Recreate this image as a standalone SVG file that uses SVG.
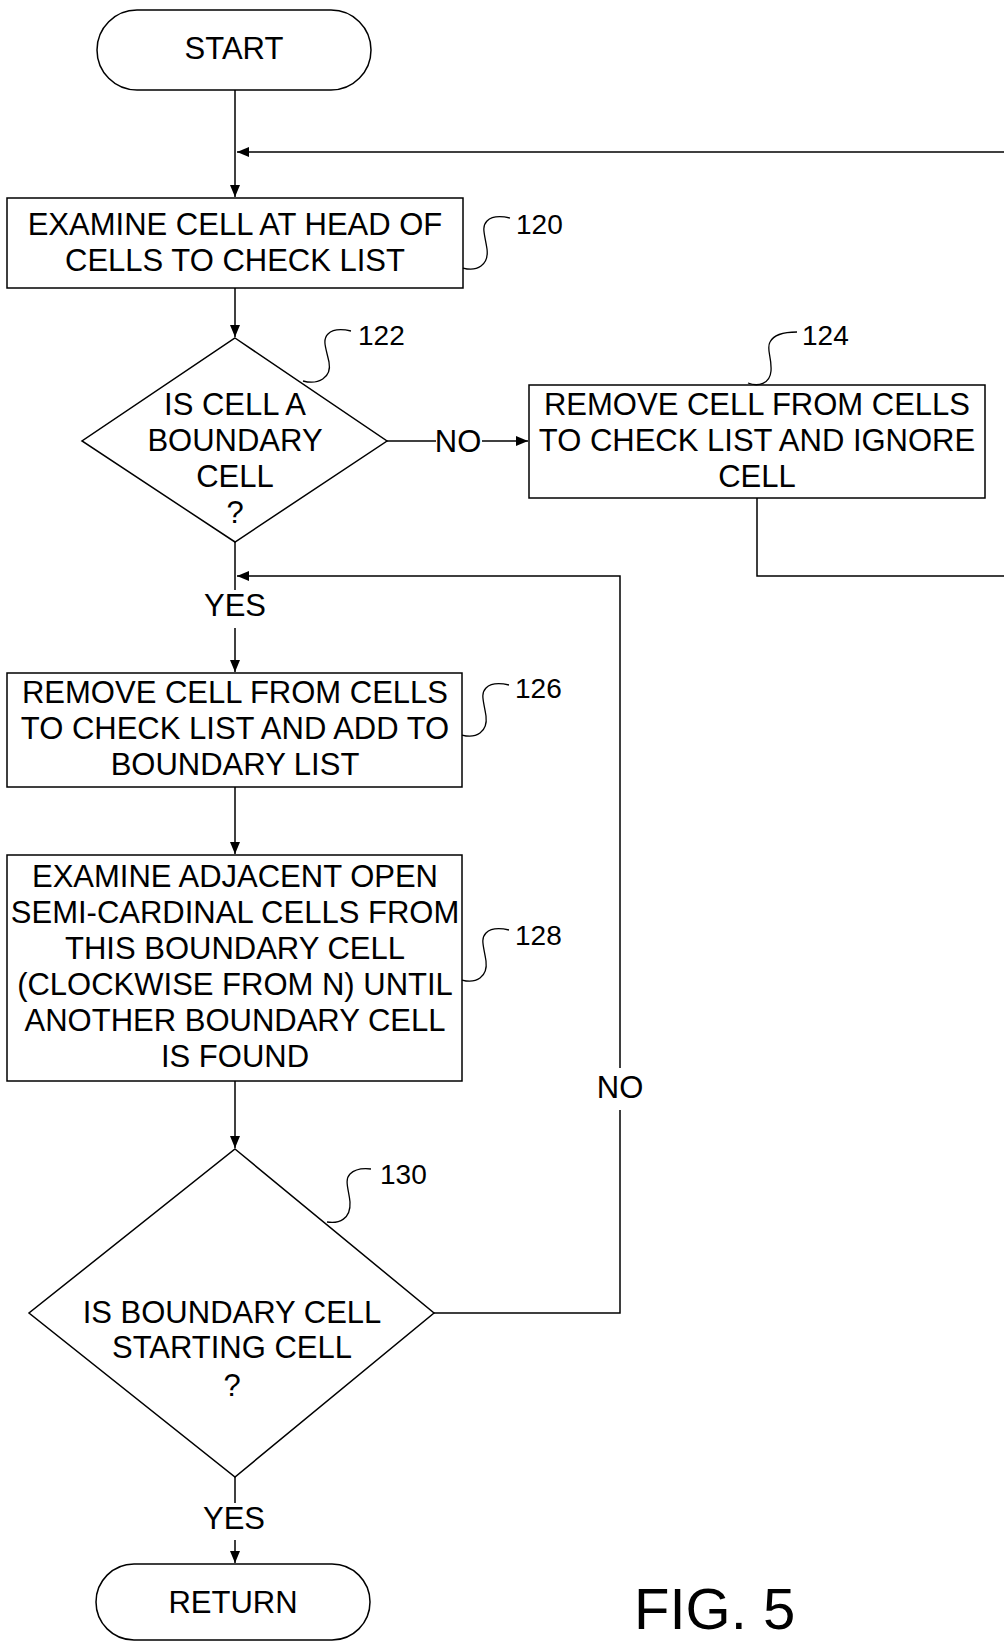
<svg xmlns="http://www.w3.org/2000/svg" width="1004" height="1642" viewBox="0 0 1004 1642">
<style>
.shape{fill:#fff;stroke:#000;stroke-width:1.5}
.line{fill:none;stroke:#000;stroke-width:1.5}
.sq{fill:none;stroke:#000;stroke-width:1.3}
text{font-family:"Liberation Sans",Arial,sans-serif;font-size:31px;fill:#000;text-anchor:middle}
.ref{font-size:28px;text-anchor:start}
.fig{font-size:58px;text-anchor:start}
</style>
<defs>
<marker id="arr" markerUnits="userSpaceOnUse" markerWidth="13" markerHeight="11" refX="12" refY="5" orient="auto">
<path d="M0,0 L12,5 L0,10 z" fill="#000"/>
</marker>
</defs>
<rect width="1004" height="1642" fill="#fff"/>
<g id="connectors">
<path class="line" d="M235,90 V197" marker-end="url(#arr)"/>
<path class="line" d="M1004,152 H237" marker-end="url(#arr)"/>
<path class="line" d="M235,288 V337" marker-end="url(#arr)"/>
<path class="line" d="M387,441 H436"/>
<path class="line" d="M482,441 H528" marker-end="url(#arr)"/>
<path class="line" d="M757,498 V576 H1004"/>
<path class="line" d="M235,542 V590"/>
<path class="line" d="M235,628 V672" marker-end="url(#arr)"/>
<path class="line" d="M434,1313 H620 V1110"/>
<path class="line" d="M620,1068 V576 H237" marker-end="url(#arr)"/>
<path class="line" d="M235,787 V854" marker-end="url(#arr)"/>
<path class="line" d="M235,1081 V1148" marker-end="url(#arr)"/>
<path class="line" d="M235,1477 V1503"/>
<path class="line" d="M235,1540 V1563" marker-end="url(#arr)"/>
<text x="458" y="452">NO</text>
<text x="235" y="616">YES</text>
<text x="620" y="1098">NO</text>
<text x="234" y="1529">YES</text>
</g>
<g id="start">
<rect class="shape" x="97" y="10" width="274" height="80" rx="40" ry="40"/>
<text x="234" y="59">START</text>
</g>
<g id="n120">
<rect class="shape" x="7" y="198" width="456" height="90"/>
<text x="235" y="235">EXAMINE CELL AT HEAD OF</text>
<text x="235" y="271">CELLS TO CHECK LIST</text>
<path class="sq" d="M463,268 c14,4 26,-3 24,-19 c-2,-14 -6,-22 0,-28 c5,-5 14,-5 23,-3"/>
<text class="ref" x="516" y="234">120</text>
</g>
<g id="n122">
<polygon class="shape" points="235,338 387,441 235,542 82,441"/>
<text x="235" y="415">IS CELL A</text>
<text x="235" y="451">BOUNDARY</text>
<text x="235" y="487">CELL</text>
<text x="235" y="523">?</text>
<path class="sq" d="M303,381 c15,4 29,-3 26,-19 c-3,-14 -7,-22 -1,-28 c5,-5 14,-5 23,-3"/>
<text class="ref" x="358" y="345">122</text>
</g>
<g id="n124">
<rect class="shape" x="529" y="385" width="456" height="113"/>
<text x="757" y="415">REMOVE CELL FROM CELLS</text>
<text x="757" y="451">TO CHECK LIST AND IGNORE</text>
<text x="757" y="487">CELL</text>
<path class="sq" d="M748,383 c10,4 22,1 23,-12 c1,-14 -5,-22 -1,-29 c4,-8 14,-10 27,-10"/>
<text class="ref" x="802" y="345">124</text>
</g>
<g id="n126">
<rect class="shape" x="7" y="673" width="455" height="114"/>
<text x="235" y="703">REMOVE CELL FROM CELLS</text>
<text x="235" y="739">TO CHECK LIST AND ADD TO</text>
<text x="235" y="775">BOUNDARY LIST</text>
<path class="sq" d="M462,735 c14,4 26,-3 24,-19 c-2,-14 -6,-22 0,-28 c5,-5 14,-5 23,-3"/>
<text class="ref" x="515" y="698">126</text>
</g>
<g id="n128">
<rect class="shape" x="7" y="855" width="455" height="226"/>
<text x="235" y="887">EXAMINE ADJACENT OPEN</text>
<text x="235" y="923">SEMI-CARDINAL CELLS FROM</text>
<text x="235" y="959">THIS BOUNDARY CELL</text>
<text x="235" y="995">(CLOCKWISE FROM N) UNTIL</text>
<text x="235" y="1031">ANOTHER BOUNDARY CELL</text>
<text x="235" y="1067">IS FOUND</text>
<path class="sq" d="M462,980 c14,4 26,-3 24,-19 c-2,-14 -6,-22 0,-28 c5,-5 14,-5 23,-3"/>
<text class="ref" x="515" y="945">128</text>
</g>
<g id="n130">
<polygon class="shape" points="235,1149 434,1313 235,1477 29,1313"/>
<text x="232" y="1323">IS BOUNDARY CELL</text>
<text x="232" y="1358">STARTING CELL</text>
<text x="232" y="1396">?</text>
<path class="sq" d="M327,1222 c12,2 24,-3 23,-20 c-1,-12 -6,-22 0,-28 c5,-5 12,-6 21,-5"/>
<text class="ref" x="380" y="1184">130</text>
</g>
<g id="return">
<rect class="shape" x="96" y="1564" width="274" height="76" rx="38" ry="38"/>
<text x="233" y="1613">RETURN</text>
</g>
<text class="fig" x="634" y="1629">FIG. 5</text>
</svg>
